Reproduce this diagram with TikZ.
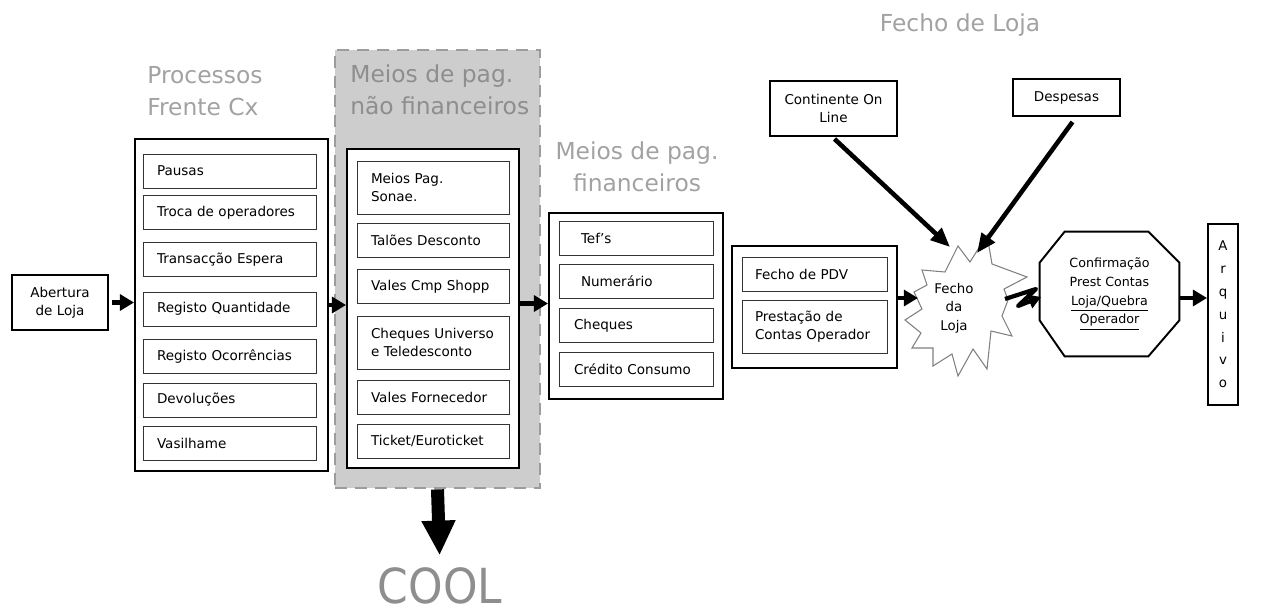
\documentclass[tikz,border=0pt]{standalone}
\usepackage{fontspec}
\usepackage{graphicx}
\setmainfont{DejaVu Sans}
\usetikzlibrary{arrows.meta,calc}

\def\u{0.02cm}
\newcommand\itemfont{\fontsize{7.7}{10.3}\selectfont}
\newcommand\titlefont{\fontsize{13.3}{18}\selectfont}
\definecolor{zonefill}{HTML}{CDCDCD}
\definecolor{zonedash}{HTML}{9C9C9C}
\definecolor{titlegray}{HTML}{A2A2A2}
\definecolor{titledark}{HTML}{8E8E8E}
\definecolor{stargray}{HTML}{808080}
\definecolor{coolgray}{HTML}{8E8E8E}

\begin{document}
\begin{tikzpicture}[x=0.02cm, y=-0.02cm,
  box/.style={draw=black, line width=1.1pt, fill=white, inner sep=0pt},
  item/.style={draw=black!80, line width=0.5pt, fill=white, minimum height={34*\u},
    inner ysep=0pt, align=left, font=\itemfont},
  pitem/.style={item, inner xsep={14*\u}, text width={145*\u}},
  nitem/.style={item, inner xsep={14*\u}, text width={124*\u}},
  fitem/.style={item, inner xsep={15*\u}, text width={124*\u}},
  ditem/.style={item, inner xsep={13*\u}, text width={119*\u}},
  title/.style={font=\titlefont, inner sep=0pt, align=left},
  flow/.style={line width=2.6pt, -{Triangle[length=8pt,width=9pt]}},
  bigflow/.style={line width=2.6pt, -{Triangle[length=11pt,width=9pt]}},
  bolt/.style={line width=2.4pt, line join=round, -{Triangle[length=7pt,width=8pt]}},
  coolarrow/.style={line width=7.4pt, -{Triangle[length=19.8pt,width=18pt]}},
  burst/.style={draw=stargray, line width=0.6pt, fill=white, line join=miter}
]
\useasboundingbox (0,0) rectangle (1265,615);

% shaded zone of the non-financial means of payment
\node[draw=zonedash, fill=zonefill, line width=1.6pt, dash pattern=on 6.8pt off 4.5pt,
  minimum width={205*\u}, minimum height={438*\u}, inner sep=0pt] (nfzone) at (437.5,269) {};

% headings
\node[title, text=titlegray, anchor=west] (proctitle) at (147,91) {Processos\\Frente Cx};
\node[title, text=titledark, anchor=west] (nftitle) at (350,90) {Meios de pag.\\não financeiros};
\node[title, text=titlegray, align=center] (fintitle) at (637,167) {Meios de pag.\\financeiros};
\node[title, text=titlegray] (fechotitle) at (960,25) {Fecho de Loja};

% opening
\node[box, minimum width={96*\u}, minimum height={55*\u}, align=center, font=\itemfont]
  (abertura) at (60,302.5) {Abertura\\de Loja};

% checkout processes
\node[box, minimum width={193*\u}, minimum height={332*\u}] (proc) at (231.5,305) {};
\node[pitem] (pausas)     at (229.5,171)   {Pausas};
\node[pitem] (troca)      at (229.5,212.5) {Troca de operadores};
\node[pitem] (transaccao) at (229.5,259.5) {Transacção Espera};
\node[pitem] (regquant)   at (229.5,309)   {Registo Quantidade};
\node[pitem] (regocorr)   at (229.5,356)   {Registo Ocorrências};
\node[pitem] (devol)      at (229.5,400)   {Devoluções};
\node[pitem] (vasil)      at (229.5,443)   {Vasilhame};

% non-financial means of payment
\node[box, minimum width={172*\u}, minimum height={319*\u}] (nonfin) at (433,308.5) {};
\node[nitem, minimum height={53*\u}] (sonae) at (433,187.5) {Meios Pag.\\Sonae.};
\node[nitem] (taloes)     at (433,240)   {Talões Desconto};
\node[nitem] (valescmp)   at (433,286.5) {Vales Cmp Shopp};
\node[nitem, minimum height={53*\u}] (universo) at (433,342.5) {Cheques~Universo\\e Teledesconto};
\node[nitem] (fornecedor) at (433,397)   {Vales Fornecedor};
\node[nitem] (ticket)     at (433,441)   {Ticket/Euroticket};

% financial means of payment
\node[box, minimum width={174*\u}, minimum height={186*\u}] (fin) at (636,306) {};
\node[fitem] (tefs)      at (636,238)   {\hspace*{0.14cm}Tef's};
\node[fitem] (numerario) at (636,281)   {\hspace*{0.14cm}Numerário};
\node[fitem] (cheques)   at (636,325.5) {Cheques};
\node[fitem] (credito)   at (636,369.5) {Crédito Consumo};

% point of sale closing
\node[box, minimum width={165*\u}, minimum height={122*\u}] (pdv) at (814.5,307) {};
\node[ditem] (fechopdv) at (814.5,274) {Fecho de PDV};
\node[ditem, minimum height={53*\u}] (prestacao) at (814.5,326.5) {Prestação de\\Contas~Operador};

% inputs to the store closing
\node[box, minimum width={127*\u}, minimum height={55*\u}, align=center, font=\itemfont]
  (continente) at (833.5,108.5) {Continente On\\Line};
\node[box, minimum width={107*\u}, minimum height={37*\u}, font=\itemfont]
  (despesas) at (1066.5,97.5) {Despesas};

% store closing: irregular burst outline with its label
\draw[burst] (958,246) -- (970,262) -- (987,235) -- (992,264) -- (1027,277)
  -- (1004,289) -- (1008,300) -- (1002,316) -- (1012,336) -- (991,331)
  -- (987,369) -- (973,349) -- (958,376) -- (952,354) -- (933,366)
  -- (933,348) -- (912,348) -- (921,333) -- (905,320) -- (922,309)
  -- (914,292) -- (927,285) -- (922,270) -- (945,272) -- cycle;
\node[align=center, inner sep=0pt, font=\fontsize{7.6}{10.5}\selectfont]
  (fecholoja) at (954,308) {Fecho\\da\\Loja};

% confirmation octagon, drawn round its node
\node[minimum width={139*\u}, minimum height={124*\u}, align=center, inner sep=0pt,
  font=\fontsize{7.2}{10.6}\selectfont] (confirm) at (1109.5,294)
  {Confirmação\\Prest Contas\\\underline{Loja/Quebra}\\\underline{Operador}};
\draw[line width=1.1pt, line join=miter]
  ($(confirm.north west)+(25,0)$) -- ($(confirm.north east)+(-31,0)$)
  -- ($(confirm.north east)+(0,31)$) -- ($(confirm.south east)+(0,-36)$)
  -- ($(confirm.south east)+(-31,0)$) -- ($(confirm.south west)+(25,0)$)
  -- ($(confirm.south west)+(0,-36)$) -- ($(confirm.north west)+(0,31)$) -- cycle;

\node[box, minimum width={30*\u}, minimum height={181*\u}, align=center,
  font=\fontsize{7.6}{13}\selectfont] (arquivo) at (1223,314.5) {A\\r\\q\\u\\i\\v\\o};

\node[inner sep=0pt, text=coolgray, font=\fontsize{25}{30}\selectfont] (cool) at (440,586)
  {\scalebox{1}[1.1]{COOL}};

% connectors
\draw[flow] ($(abertura.east)+(3,0)$) -- (abertura.east -| proc.west);
\draw[flow] (proc.east) -- (proc.east -| nonfin.west);
\coordinate (nfout) at ($(nonfin.east)+(0,-5)$);
\draw[flow] (nfout) -- (nfout -| fin.west);
\coordinate (pdvout) at ($(pdv.east)+(0,-9)$);
\coordinate (starwest) at (918,298);
\draw[flow] (pdvout) -- (starwest);

\coordinate (starnw) at (950,247);
\coordinate (starne) at (977,253);
\draw[bigflow] ($(continente.south)+(1,2)$) -- (starnw);
\draw[bigflow] ($(despesas.south)+(6,5)$) -- (starne);

\coordinate (boltstart) at (1005,299);
\coordinate (boltA) at (1036,289);
\coordinate (boltB) at (1018,306);
\coordinate (boltend) at (1041,297);
\draw[bolt] (boltstart) -- (boltA) -- (boltB) -- (boltend);

\coordinate (octout) at ($(confirm.east)+(0,4)$);
\draw[flow] (octout) -- (octout -| arquivo.west);

\draw[coolarrow, shorten >={12*\u}] (nfzone.south) -- (cool.north);
\end{tikzpicture}
\end{document}
